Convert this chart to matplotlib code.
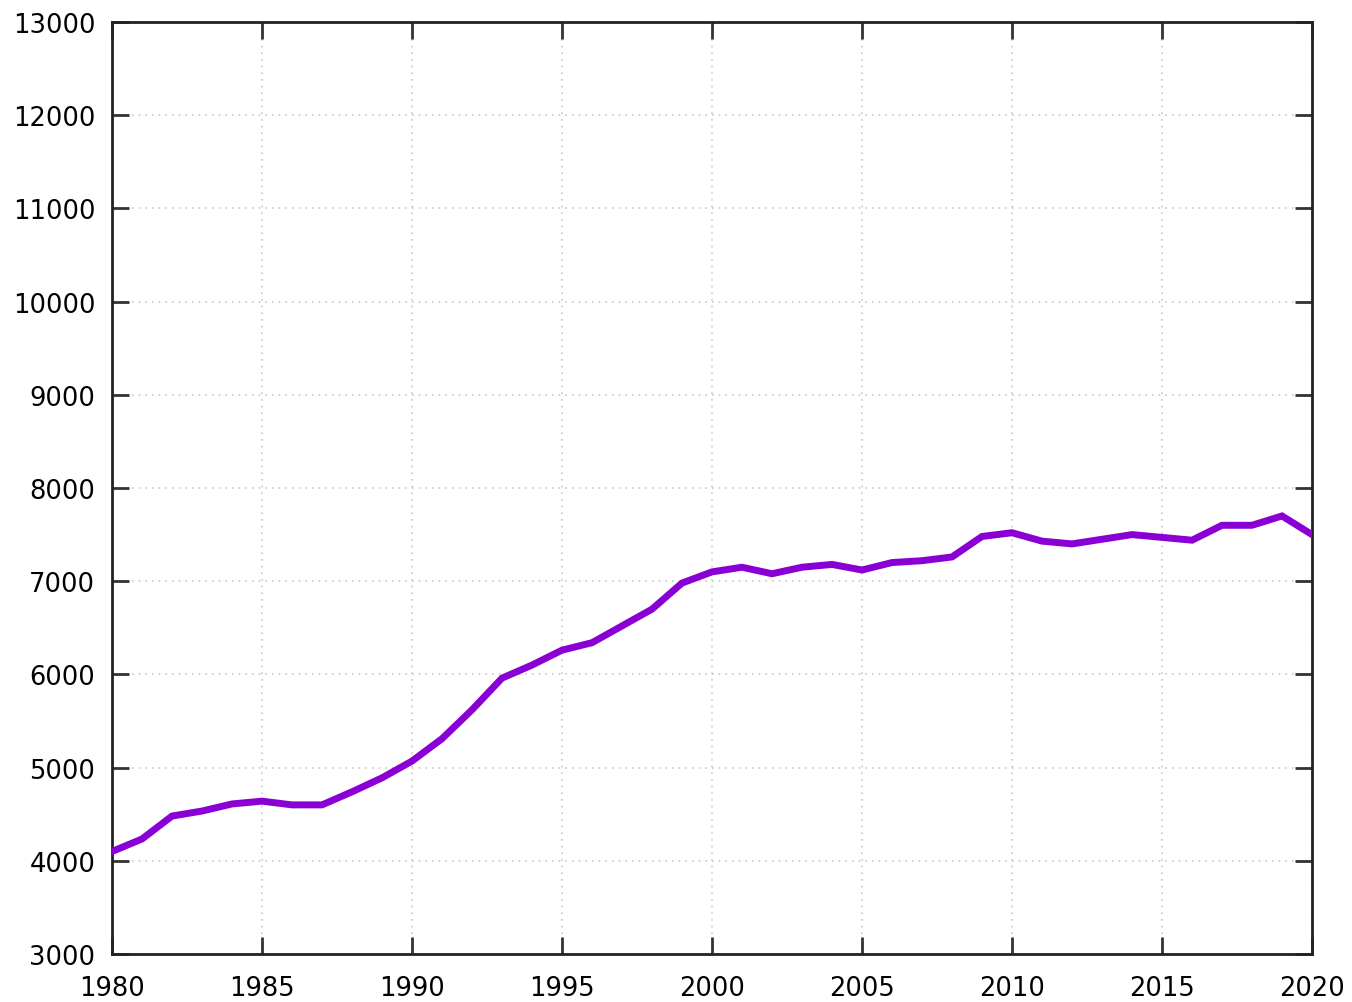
import matplotlib
matplotlib.use("Agg")
import matplotlib.pyplot as plt

years = list(range(1980, 2021))
values = [4100, 4234, 4480, 4534, 4610, 4640, 4600, 4600, 4740, 4890,
          5070, 5310, 5620, 5960, 6100, 6260, 6340, 6520, 6700, 6980,
          7100, 7150, 7080, 7150, 7180, 7120, 7200, 7220, 7260, 7480,
          7520, 7430, 7400, 7450, 7500, 7470, 7440, 7600, 7600, 7700,
          7500]

x_ticks = list(range(1980, 2021, 5))
y_ticks = list(range(3000, 13001, 1000))

fig = plt.figure(figsize=(13.52, 10.03), dpi=100)
ax = fig.add_axes([112 / 1352, 1 - 955 / 1003, 1200 / 1352, 932 / 1003])

ax.plot(years, values, color='#8a00d4', linewidth=5, solid_joinstyle='miter', zorder=3)

ax.set_xlim(1980, 2020)
ax.set_ylim(3000, 13000)
ax.set_xticks(x_ticks)
ax.set_yticks(y_ticks)
ax.grid(True, color='#c8c8c8', linestyle=(0, (1, 3)), linewidth=1.2)

for s in ax.spines.values():
    s.set_linewidth(2)
    s.set_color('#222222')

ax.tick_params(direction='in', length=12, width=2, color='#333333',
               top=True, right=True, labelsize=18.5)
ax.tick_params(axis='x', pad=15)
ax.tick_params(axis='y', pad=12)

fig.savefig("out.png", dpi=100)
